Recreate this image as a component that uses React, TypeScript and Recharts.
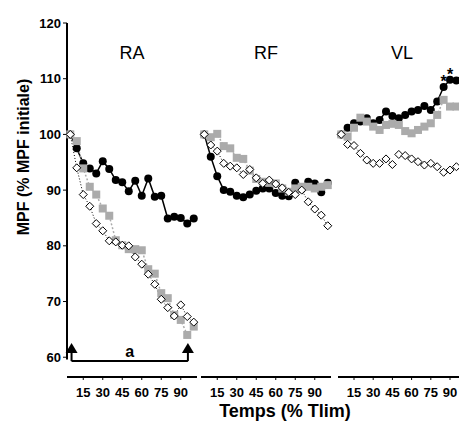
import { LineChart, Line, XAxis, YAxis, ReferenceLine, ReferenceDot, LabelList } from 'recharts';

const FONT = 'Arial, "Liberation Sans", Helvetica, sans-serif';
const GRAY = '#ababab';

// time points (% Tlim)
const TIMES = [5, 10, 15, 20, 25, 30, 35, 40, 45, 50, 55, 60, 65, 70, 75, 80, 85, 90, 95, 100];
const X_TICKS = [15, 30, 45, 60, 75, 90];
const Y_TICKS = [60, 70, 80, 90, 100, 110, 120];

// RA
const raBlack = [100, 97.5, 94.8, 93.9, 93.0, 95.2, 93.8, 91.8, 91.4, 89.8, 91.7, 89.0, 92.1, 88.8, 89.0, 84.9, 85.2, 85.0, 84.0, 84.9];
const raGray = [100, 98.8, 93.9, 90.6, 89.2, 86.7, 85.4, 81.0, 80.1, 79.4, 79.4, 79.2, 75.8, 75.0, 71.5, 70.6, 67.6, 66.7, 64.0, 65.5];
const raWhite = [100, 94.0, 89.2, 87.1, 84.0, 82.7, 80.9, 80.7, 80.1, 80.0, 78.0, 76.7, 74.9, 73.1, 70.4, 68.9, 67.4, 69.4, 67.3, 66.3];

// RF
const rfBlack = [100, 96.0, 92.5, 90.0, 89.7, 89.0, 88.7, 89.2, 89.9, 90.3, 90.3, 89.5, 89.0, 88.9, 91.3, 90.2, 91.5, 91.2, 89.6, 91.3];
const rfGray = [100, 99.5, 100.1, 97.9, 97.5, 95.8, 95.6, 93.5, 92.0, 91.5, 91.3, 91.2, 90.3, 89.7, 90.3, 90.6, 90.6, 90.3, 90.6, 90.9];
const rfWhite = [100, 98.1, 97.0, 94.8, 94.3, 94.0, 92.8, 93.7, 92.2, 91.2, 91.8, 91.1, 90.4, 89.6, 89.2, 90.0, 87.9, 86.6, 85.5, 83.6];

// VL
const vlBlack = [100, 101.2, 102.0, 102.3, 102.9, 102.0, 102.6, 104.1, 103.3, 102.9, 103.5, 104.1, 104.4, 105.1, 104.4, 105.9, 108.5, 109.8, 109.7, 110.0];
const vlGray = [100, 99.6, 101.2, 103.0, 102.3, 101.4, 100.8, 101.7, 101.9, 101.7, 100.6, 100.2, 100.8, 101.4, 102.0, 103.5, 106.2, 105.0, 105.0, 105.0];
const vlWhite = [100, 98.2, 98.0, 96.6, 95.4, 94.8, 94.8, 95.6, 94.6, 96.4, 96.2, 95.6, 95.1, 94.5, 94.8, 94.2, 93.2, 93.6, 94.2, 93.8];
const vlWhiteBreak = 45; // the dotted line is interrupted after this point
const vlStars = [85, 90];

// bracket "a" under RA
const bracketFrom = 6;
const bracketTo = 95.5;

const Y_DOMAIN: [number, number] = [56.45, 120];
const X_DOMAIN: [number, number] = [2.5, 102.5];
const TOP = 23;
const PLOT_H = 354;
const XAXIS_H = 23;
const CHART_H = TOP + PLOT_H + XAXIS_H;

type Row = { t: number; black: number; gray: number; white: number | null; white2: number | null; star: string };

function buildRows(black: number[], gray: number[], white: number[], breakAt?: number, stars: number[] = []): Row[] {
  return TIMES.map((t, i) => ({
    t,
    black: black[i],
    gray: gray[i],
    white: breakAt == null || t <= breakAt ? white[i] : null,
    white2: breakAt != null && t > breakAt ? white[i] : null,
    star: stars.includes(t) ? '*' : '',
  }));
}

const ok = (v: unknown) => typeof v === 'number' && !isNaN(v);

function CircleDot(p: any) {
  if (!ok(p.cy)) return <g />;
  return <circle cx={p.cx} cy={p.cy} r={4} fill="#000" />;
}

function SquareDot(p: any) {
  if (!ok(p.cy)) return <g />;
  return <rect x={p.cx - 4} y={p.cy - 4} width={8} height={8} fill={GRAY} />;
}

function DiamondDot(p: any) {
  if (!ok(p.cy)) return <g />;
  const { cx, cy } = p;
  return (
    <polygon
      points={`${cx},${cy - 4} ${cx + 4},${cy} ${cx},${cy + 4} ${cx - 4},${cy}`}
      fill="#fff"
      stroke="#000"
      strokeWidth={1}
    />
  );
}

function StarLabel(p: any) {
  if (!p.value) return null;
  return (
    <text x={p.x} y={p.y} textAnchor="middle" fontSize={16} fontWeight={700} fontFamily={FONT} fill="#000">
      *
    </text>
  );
}

function Arrow(p: any) {
  const { cx, cy } = p;
  return <polygon points={`${cx},${cy - 5} ${cx - 6},${cy + 5} ${cx + 6},${cy + 5}`} fill="#000" />;
}

interface PanelProps {
  rows: Row[];
  left: number;
  plotWidth: number;
  marginLeft: number;
  withYAxis?: boolean;
  withBracket?: boolean;
  split?: boolean;
}

function Panel({ rows, left, plotWidth, marginLeft, withYAxis, withBracket, split }: PanelProps) {
  const yAxisWidth = withYAxis ? 67 : 0;
  const width = marginLeft + yAxisWidth + plotWidth + 6;
  const tickStyle = { fill: '#000', fontSize: 13, fontWeight: 700, fontFamily: FONT };
  return (
    <div style={{ position: 'absolute', left, top: 0 }}>
      <LineChart width={width} height={CHART_H} data={rows} margin={{ top: TOP, right: 6, bottom: 0, left: marginLeft }}>
        <XAxis
          type="number"
          dataKey="t"
          domain={X_DOMAIN}
          ticks={X_TICKS}
          interval={0}
          height={XAXIS_H}
          tickSize={3}
          tickMargin={8}
          axisLine={{ stroke: '#000', strokeWidth: 1.8 }}
          tickLine={{ stroke: '#000' }}
          tick={tickStyle}
        />
        <YAxis
          type="number"
          domain={Y_DOMAIN}
          ticks={Y_TICKS}
          interval={0}
          hide={!withYAxis}
          width={yAxisWidth}
          tickSize={4}
          axisLine={false}
          tickLine={{ stroke: '#000' }}
          tick={tickStyle}
        />
        {withYAxis && (
          <ReferenceLine segment={[{ x: X_DOMAIN[0], y: 59.6 }, { x: X_DOMAIN[0], y: 120 }]} stroke="#000" strokeWidth={2} />
        )}
        {withBracket && (
          <>
            <ReferenceLine
              segment={[{ x: bracketFrom, y: 59.3 }, { x: bracketTo, y: 59.3 }]}
              stroke="#000"
              strokeWidth={2}
              label={{ value: 'a', position: 'top', offset: 4, fontSize: 16, fontWeight: 700, fontFamily: FONT, fill: '#000' }}
            />
            <ReferenceLine segment={[{ x: bracketFrom, y: 59.3 }, { x: bracketFrom, y: 61 }]} stroke="#000" strokeWidth={2} />
            <ReferenceLine segment={[{ x: bracketTo, y: 59.3 }, { x: bracketTo, y: 61 }]} stroke="#000" strokeWidth={2} />
            <ReferenceDot x={bracketFrom} y={61.65} r={0} shape={Arrow} />
            <ReferenceDot x={bracketTo} y={61.65} r={0} shape={Arrow} />
          </>
        )}
        <Line type="linear" dataKey="black" stroke="#000" strokeWidth={1.5} dot={CircleDot} isAnimationActive={false}>
          <LabelList dataKey="star" content={StarLabel as never} />
        </Line>
        <Line type="linear" dataKey="gray" stroke={GRAY} strokeWidth={1.5} strokeDasharray="2 2" dot={SquareDot} isAnimationActive={false} />
        <Line type="linear" dataKey="white" stroke="#000" strokeWidth={1} strokeDasharray="1 2" dot={DiamondDot} isAnimationActive={false} />
        {split && (
          <Line type="linear" dataKey="white2" stroke="#000" strokeWidth={1} strokeDasharray="1 2" dot={DiamondDot} isAnimationActive={false} />
        )}
      </LineChart>
    </div>
  );
}

export default function App() {
  const ra = buildRows(raBlack, raGray, raWhite);
  const rf = buildRows(rfBlack, rfGray, rfWhite);
  const vl = buildRows(vlBlack, vlGray, vlWhite, vlWhiteBreak, vlStars);

  const panels = [
    { title: 'RA', left: 0, marginLeft: 0, plotWidth: 130, y: true },
    { title: 'RF', left: 195, marginLeft: 6, plotWidth: 130, y: false },
    { title: 'VL', left: 332, marginLeft: 6, plotWidth: 128, y: false },
  ];
  const plotCenter = (p: (typeof panels)[number]) => p.left + p.marginLeft + (p.y ? 67 : 0) + p.plotWidth / 2;

  return (
    <div style={{ position: 'absolute', left: 0, top: 0, width: 459, height: 426, overflow: 'hidden', background: '#fff' }}>
      <Panel rows={ra} left={0} marginLeft={0} plotWidth={130} withYAxis withBracket />
      <Panel rows={rf} left={195} marginLeft={6} plotWidth={130} />
      <Panel rows={vl} left={332} marginLeft={6} plotWidth={128} split />
      <svg width={459} height={426} style={{ position: 'absolute', left: 0, top: 0, pointerEvents: 'none' }}>
        {panels.map(p => (
          <text key={p.title} x={plotCenter(p)} y={59} textAnchor="middle" fontSize={18} fontFamily={FONT} fill="#000">
            {p.title}
          </text>
        ))}
        <text
          x={0}
          y={0}
          transform="translate(29 157) rotate(-90)"
          textAnchor="middle"
          fontSize={16}
          fontWeight={700}
          fontFamily={FONT}
          fill="#000"
        >
          MPF (% MPF initiale)
        </text>
        <text x={285} y={417} textAnchor="middle" fontSize={18} fontWeight={700} fontFamily={FONT} fill="#000">
          Temps (% Tlim)
        </text>
      </svg>
    </div>
  );
}
